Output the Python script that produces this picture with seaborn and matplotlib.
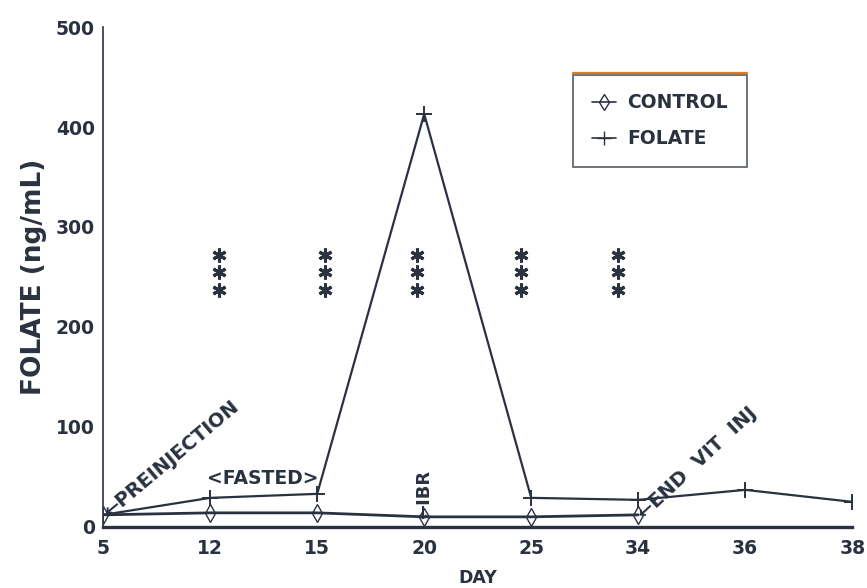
import matplotlib
matplotlib.use("Agg")
import matplotlib.pyplot as plt
import seaborn as sns
import pandas as pd
from matplotlib.lines import Line2D

# Sampling days (plotted at evenly spaced positions)
days = ["5", "12", "15", "20", "25", "34", "36", "38"]
control = [12, 14, 14, 10, 10, 12]
folate = [12, 29, 33, 413, 29, 27, 37, 25]
# significance markers (***) above these days
sig_days = ["12", "15", "20", "25", "34"]
sig_levels = [237, 255, 272]
y_ticks = [0, 100, 200, 300, 400, 500]

ink = "#2a3240"

sns.set_theme(style="white")
plt.rcParams["font.family"] = ["DejaVu Sans"]
plt.rcParams["font.weight"] = "bold"

fig = plt.figure(figsize=(8.67, 5.88), dpi=100)
ax = fig.add_axes([0.119, 0.104, 0.864, 0.850])

pos = {d: i for i, d in enumerate(days)}
df_c = pd.DataFrame({"x": [pos[d] for d in days[:len(control)]], "y": control})
df_f = pd.DataFrame({"x": [pos[d] for d in days], "y": folate})

sns.lineplot(data=df_c, x="x", y="y", ax=ax, color=ink, lw=2.0,
             marker="d", markersize=9, markerfacecolor="none",
             markeredgecolor=ink, markeredgewidth=1.0)
sns.lineplot(data=df_f, x="x", y="y", ax=ax, color=ink, lw=1.6,
             marker="+", markersize=11, markeredgecolor=ink,
             markeredgewidth=1.4)

ax.set_xlim(0, len(days) - 1)
ax.set_ylim(0, 500)
ax.set_xticks(range(len(days)))
ax.set_xticklabels(days)
ax.set_yticks(y_ticks)
ax.set_yticklabels([str(v) for v in y_ticks])

for s in ("top", "right"):
    ax.spines[s].set_visible(False)
ax.spines["left"].set_color(ink)
ax.spines["left"].set_linewidth(1.2)
ax.spines["bottom"].set_color(ink)
ax.spines["bottom"].set_linewidth(2.4)
ax.tick_params(axis="both", direction="inout", length=12, width=1.2,
               color=ink, labelcolor=ink, labelsize=13.5, pad=0)
ax.tick_params(axis="x", length=10, pad=4)
for lab in ax.get_xticklabels() + ax.get_yticklabels():
    lab.set_fontweight("bold")

ax.set_xlabel("")
ax.set_ylabel("FOLATE (ng/mL)", fontsize=19, fontweight="bold", color=ink,
              labelpad=6)
fig.text(0.551, 0.017, "DAY", ha="center", va="center", fontsize=12.5,
         fontweight="bold", color=ink)

# significance asterisks drawn as asterisk markers
sig_shift = {"12": 0.08, "15": 0.07, "20": -0.07, "25": -0.1, "34": -0.19}
for d in sig_days:
    ax.plot([pos[d] + sig_shift[d]] * len(sig_levels), sig_levels,
            ls="none", marker=(6, 2, 0), markersize=10, markeredgewidth=2.2,
            color=ink)

# event annotations
ax.text(pos["5"] + 0.03, 13, "\u2190PREINJECTION", rotation=40,
        rotation_mode="anchor", ha="left", va="center", fontsize=14,
        fontweight="bold", color=ink)
ax.text(1.49, 48, "<FASTED>", ha="center", va="center", fontsize=13.5,
        fontweight="bold", color=ink)
ax.text(pos["20"], 8, "\u2190IBR", rotation=90, rotation_mode="anchor",
        ha="left", va="center", fontsize=13, fontweight="bold", color=ink)
ax.text(pos["34"] + 0.02, 11, "\u2190END  VIT  INJ", rotation=43,
        rotation_mode="anchor", ha="left", va="center", fontsize=14,
        fontweight="bold", color=ink)

# legend
handles = [
    Line2D([], [], color=ink, lw=1.2, marker="d", markersize=8,
           markerfacecolor="none", markeredgecolor=ink),
    Line2D([], [], color=ink, lw=1.2, marker="+", markersize=10,
           markeredgecolor=ink),
]
leg = ax.legend(handles, ["CONTROL", "FOLATE"], loc="upper left",
                bbox_to_anchor=(0.627, 0.905), frameon=True, fancybox=False,
                edgecolor=ink, fontsize=13.5, handlelength=1.3,
                borderpad=1.0, labelspacing=0.9, handletextpad=0.6,
                borderaxespad=0.0)
leg.get_frame().set_linewidth(1.2)
for t in leg.get_texts():
    t.set_fontweight("bold")
    t.set_color(ink)

# orange-tinted top rule of the legend box
fig.canvas.draw()
bb = leg.get_frame().get_window_extent().transformed(fig.transFigure.inverted())
fig.add_artist(Line2D([bb.x0, bb.x1], [bb.y1 + 0.002, bb.y1 + 0.002],
                      transform=fig.transFigure, color="#e07a1f", lw=1.6))

fig.savefig("out.png", dpi=100, facecolor="white")
